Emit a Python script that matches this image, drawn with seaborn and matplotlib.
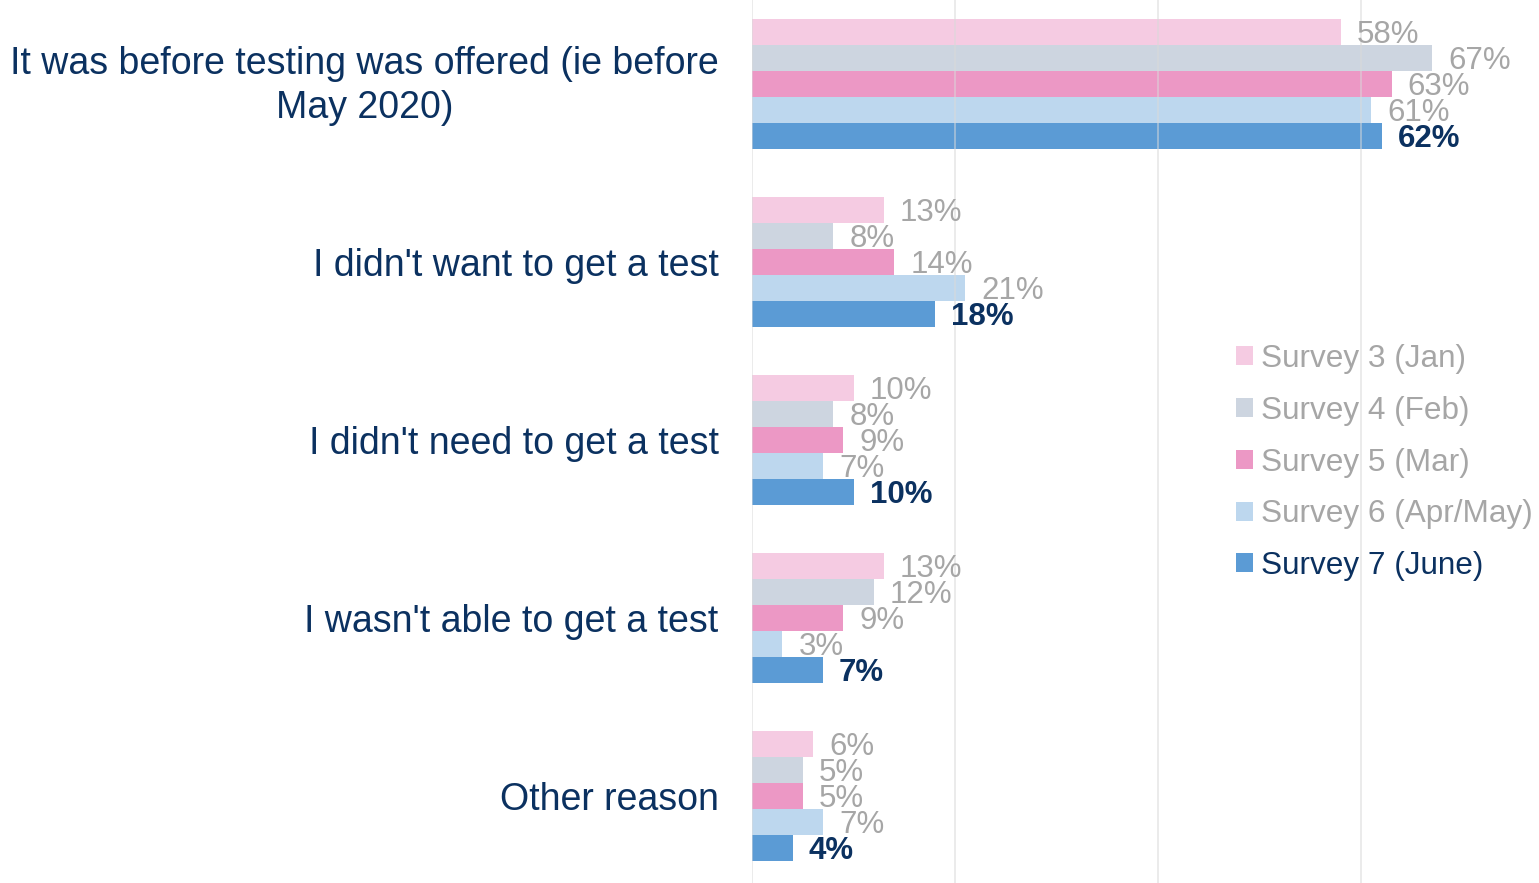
import matplotlib
matplotlib.use("Agg")
import matplotlib.pyplot as plt
import matplotlib.transforms as mtransforms
import seaborn as sns
import pandas as pd
from matplotlib.patches import Patch

# reasons for not having a test, by survey wave
reasons = [
    "It was before testing was offered (ie before\nMay 2020)",
    "I didn't want to get a test",
    "I didn't need to get a test",
    "I wasn't able to get a test",
    "Other reason",
]
surveys = [
    "Survey 3 (Jan)",
    "Survey 4 (Feb)",
    "Survey 5 (Mar)",
    "Survey 6 (Apr/May)",
    "Survey 7 (June)",
]
survey3 = [58, 13, 10, 13, 6]
survey4 = [67, 8, 8, 12, 5]
survey5 = [63, 14, 9, 9, 5]
survey6 = [61, 21, 7, 3, 7]
survey7 = [62, 18, 10, 7, 4]

bar_colors = ["#F5CBE2", "#CDD5E0", "#EC98C5", "#BDD7EE", "#5B9BD5"]
grey_txt = "#A6A6A6"
navy = "#0B3160"

rows = []
for s, vals in zip(surveys, [survey3, survey4, survey5, survey6, survey7]):
    for r, v in zip(reasons, vals):
        rows.append({"reason": r, "survey": s, "pct": v})
df = pd.DataFrame(rows)

sns.set_theme(style="white")
plt.rcParams["font.family"] = ["Liberation Sans", "DejaVu Sans"]

fig = plt.figure(figsize=(15.39, 8.83), dpi=100)
ax = fig.add_axes([752 / 1539, 0, (1539 - 752) / 1539, 1])

sns.barplot(
    data=df, y="reason", x="pct", hue="survey", orient="h",
    palette=bar_colors, width=0.73, saturation=1, ax=ax,
    legend=False, errorbar=None, linewidth=0)

for i, cont in enumerate(ax.containers):
    last = i == len(ax.containers) - 1
    anns = ax.bar_label(
        cont, labels=[f"{int(b.get_width())}%" for b in cont],
        padding=11.5, fontsize=22.5,
        color=navy if last else grey_txt,
        fontweight="bold" if last else "normal")
    # labels sit a touch lower than bar centre in the original
    for a in anns:
        a.xyann = (11.5, -2.5)

ax.set_xlim(0, 77.5)
ax.set_ylim(4.49, -0.47)
ax.set_xticks([0, 20, 40, 60])
ax.set_xticklabels([])
ax.xaxis.grid(True, color="#D9D9D9", linewidth=1.2, alpha=0.6, zorder=5)
ax.set_axisbelow(False)
ax.set_xlabel("")
ax.set_ylabel("")
ax.tick_params(axis="y", length=0, pad=24, labelsize=27, labelcolor=navy)
ax.tick_params(axis="x", length=0)
for lbl in ax.get_yticklabels():
    lbl.set_multialignment("center")
    lbl.set_linespacing(1.28)
# two-line label sits slightly higher in the original
first = ax.get_yticklabels()[0]
first.set_transform(first.get_transform()
                    + mtransforms.ScaledTranslation(0, 0.06, fig.dpi_scale_trans))
sns.despine(ax=ax, left=True, bottom=True)

handles = [Patch(facecolor=c, edgecolor="none") for c in bar_colors]
leg = ax.legend(
    handles, surveys, loc="upper left",
    bbox_to_anchor=(1236 / 1539, 1 - 344 / 883),
    bbox_transform=fig.transFigure, frameon=False, fontsize=22.7,
    handlelength=0.55, handleheight=0.55, handletextpad=0.25,
    labelspacing=0.69, borderpad=0, borderaxespad=0)
for i, t in enumerate(leg.get_texts()):
    t.set_color(navy if i == len(surveys) - 1 else grey_txt)

fig.savefig("out.png", dpi=100)
